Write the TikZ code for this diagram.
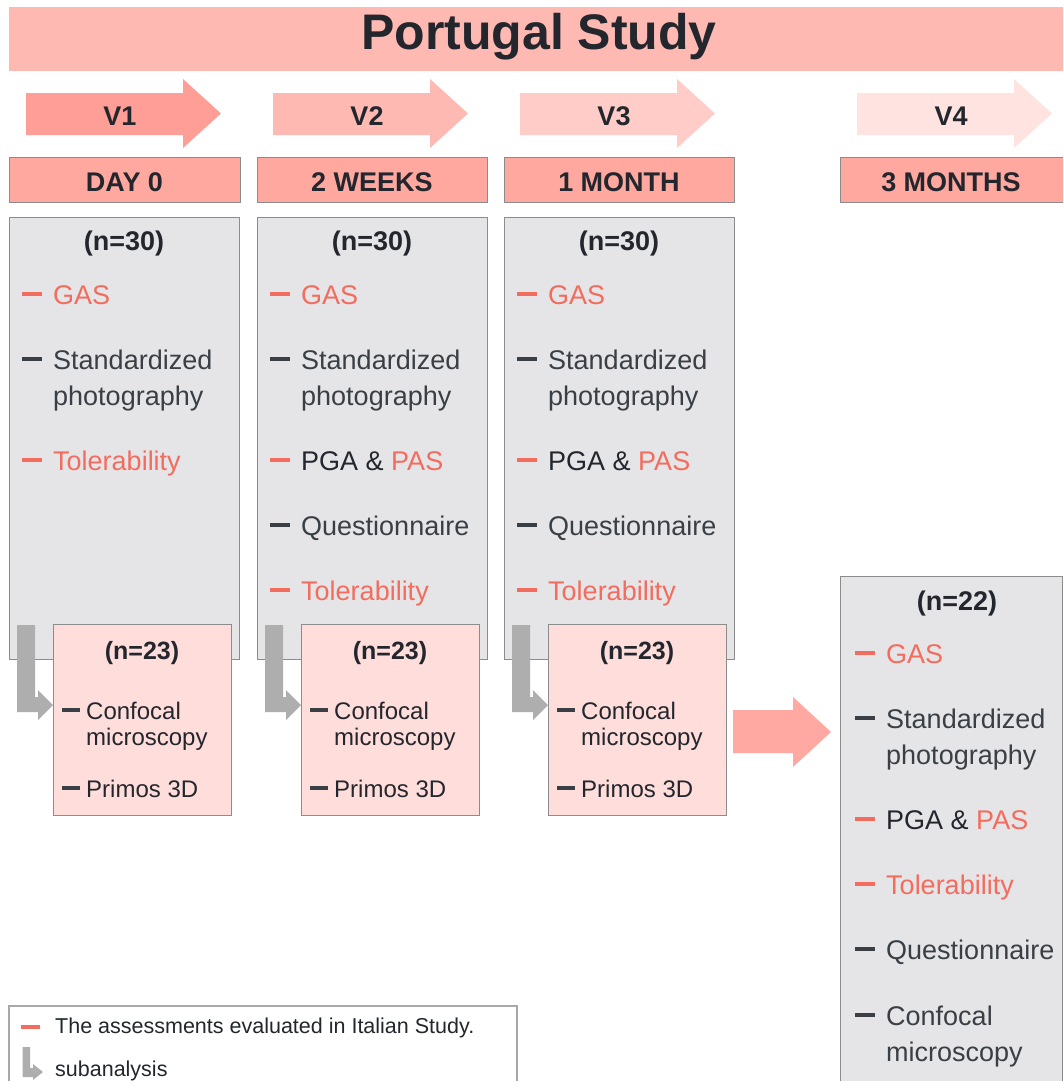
\documentclass[tikz,border=0pt]{standalone}
\usepackage{fontspec}
\setmainfont{Liberation Sans}
\definecolor{titlepink}{HTML}{FFB9B3}
\definecolor{aone}{HTML}{FF9E96}
\definecolor{atwo}{HTML}{FFB9B3}
\definecolor{athree}{HTML}{FFCCC7}
\definecolor{afour}{HTML}{FFE3E0}
\definecolor{hdrfill}{HTML}{FFA8A0}
\definecolor{greyfill}{HTML}{E5E5E7}
\definecolor{pinkfill}{HTML}{FFDDDB}
\definecolor{boxline}{HTML}{8C8C8C}
\definecolor{redc}{HTML}{F36C5E}
\definecolor{darktxt}{HTML}{23272D}
\definecolor{dashdark}{HTML}{3A3F45}
\definecolor{larrowc}{HTML}{AEAEAE}
\definecolor{bigarrowc}{HTML}{FFA9A2}
\definecolor{legline}{HTML}{A8A8A8}
\tikzset{
  itemtxt/.style={inner sep=0pt, anchor=base west, font=\fontsize{27}{36}\selectfont},
  pitemtxt/.style={inner sep=0pt, anchor=base west, font=\fontsize{24}{25}\selectfont},
  boldlbl/.style={inner sep=0pt, anchor=base, text=darktxt, font=\bfseries\fontsize{27}{30}\selectfont},
  smallbold/.style={inner sep=0pt, anchor=base, text=darktxt, font=\bfseries\fontsize{25}{28}\selectfont},
  dashln/.style={line width=4pt, line cap=butt},
  hdrbox/.style={draw=boxline, line width=1.3pt, fill=hdrfill, minimum height=45pt, inner sep=0pt, anchor=north west},
  greybox/.style={draw=boxline, line width=1.3pt, fill=greyfill, inner sep=0pt, anchor=north west},
  pinkbox/.style={draw=boxline, line width=1.3pt, fill=pinkfill, minimum width=178pt, minimum height=191pt, inner sep=0pt, anchor=north west},
  legtxt/.style={inner sep=0pt, anchor=base west, text=darktxt, font=\fontsize{21.5}{24}\selectfont},
}
% grey-box item: name, dash start x, cap-centre y, colour, text
\newcommand\gitem[5]{%
  \draw[dashln,#4] ({#2},{#3}) -- ({#2+20},{#3});
  \node[itemtxt,text=#4] (#1) at ({#2+31},{#3+10}) {#5};}
\newcommand\gitemtwo[6]{%
  \draw[dashln,#4] ({#2},{#3}) -- ({#2+20},{#3});
  \node[itemtxt,text=#4] (#1) at ({#2+31},{#3+10}) {#5};
  \node[itemtxt,text=#4] (#1b) at ({#2+31},{#3+46}) {#6};}
% pink-box item
\newcommand\pitem[4]{%
  \draw[dashln,dashdark] ({#2+9},{#3}) -- ({#2+27},{#3});
  \node[pitemtxt,text=darktxt] (#1) at ({#2+33},{#3+9}) {#4};}
% visit arrow: left x, colour
\newcommand\visitarrow[2]{%
  \fill[#2] ({#1},93) -- ({#1+157},93) -- ({#1+157},79) -- ({#1+195},113.5)
    -- ({#1+157},148) -- ({#1+157},135) -- ({#1},135) -- cycle;}
% subanalysis L arrow: pink box left x
\newcommand\subarrow[1]{%
  \fill[larrowc] ({#1-36},625) -- ({#1-18},625) -- ({#1-18},697) -- ({#1-15},697)
    -- ({#1-15},690) -- ({#1},705) -- ({#1-15},720) -- ({#1-15},712) -- ({#1-36},712) -- cycle;}
\begin{document}
\begin{tikzpicture}[x=1pt,y=-1pt]
\useasboundingbox (0,0) rectangle (1063,1081);
\clip (0,0) rectangle (1063,1081);
\fill[white] (0,0) rectangle (1063,1081);

% title
\fill[titlepink] (9,7) rectangle (1075,71);
\node[inner sep=0pt, anchor=base, text=darktxt, font=\bfseries\fontsize{50}{54}\selectfont] (title) at (539,50) {Portugal Study};

% visit arrows
\visitarrow{26}{aone}
\visitarrow{273}{atwo}
\visitarrow{520}{athree}
\visitarrow{857}{afour}
\node[boldlbl] (v1) at (120,125) {V1};
\node[boldlbl] (v2) at (367,125) {V2};
\node[boldlbl] (v3) at (614,125) {V3};
\node[boldlbl] (v4) at (951,125) {V4};

% header boxes
\node[hdrbox, minimum width=231pt] (h1) at (9,157) {};
\node[hdrbox, minimum width=230pt] (h2) at (257,157) {};
\node[hdrbox, minimum width=230pt] (h3) at (504,157) {};
\node[hdrbox, minimum width=240pt] (h4) at (840,157) {};
\node[boldlbl] (h1t) at (124.5,191) {DAY 0};
\node[boldlbl] (h2t) at (372,191) {2 WEEKS};
\node[boldlbl] (h3t) at (619,191) {1 MONTH};
\node[boldlbl] (h4t) at (951,191) {3 MONTHS};

% grey boxes V1-V3
\node[greybox, minimum width=230pt, minimum height=442pt] (g1) at (9,217) {};
\node[greybox, minimum width=230pt, minimum height=442pt] (g2) at (257,217) {};
\node[greybox, minimum width=230pt, minimum height=442pt] (g3) at (504,217) {};

\node[boldlbl] (g1n) at (124,250) {(n=30)};
\node[boldlbl] (g2n) at (372,250) {(n=30)};
\node[boldlbl] (g3n) at (619,250) {(n=30)};

\gitem{g1a}{22}{294}{redc}{GAS}
\gitemtwo{g1b}{22}{359}{dashdark}{Standardized}{photography}
\gitem{g1c}{22}{460}{redc}{Tolerability}

\gitem{g2a}{270}{294}{redc}{GAS}
\gitemtwo{g2b}{270}{359}{dashdark}{Standardized}{photography}
\gitem{g2c}{270}{460}{redc}{\textcolor{darktxt}{PGA \&} PAS}
\gitem{g2d}{270}{525}{dashdark}{Questionnaire}
\gitem{g2e}{270}{590}{redc}{Tolerability}

\gitem{g3a}{517}{294}{redc}{GAS}
\gitemtwo{g3b}{517}{359}{dashdark}{Standardized}{photography}
\gitem{g3c}{517}{460}{redc}{\textcolor{darktxt}{PGA \&} PAS}
\gitem{g3d}{517}{525}{dashdark}{Questionnaire}
\gitem{g3e}{517}{590}{redc}{Tolerability}

% pink subanalysis boxes
\node[pinkbox] (p1) at (53,624) {};
\node[pinkbox] (p2) at (301,624) {};
\node[pinkbox] (p3) at (548,624) {};
\subarrow{53}
\subarrow{301}
\subarrow{548}
\foreach \bx/\nm in {53/p1,301/p2,548/p3}{
  \node[smallbold] (\nm n) at ({\bx+89},659) {(n=23)};
  \pitem{\nm a}{\bx}{710}{Confocal}
  \node[pitemtxt,text=darktxt] (\nm a2) at ({\bx+33},745) {microscopy};
  \pitem{\nm b}{\bx}{788}{Primos 3D}
}

% big arrow to V4
\fill[bigarrowc] (733,710) -- (793,710) -- (793,697) -- (831,732) -- (793,767) -- (793,753) -- (733,753) -- cycle;

% V4 box
\node[greybox, minimum width=222pt, minimum height=530pt] (g4) at (840,576) {};
\node[boldlbl] (g4n) at (957,610) {(n=22)};
\gitem{g4a}{855}{653}{redc}{GAS}
\gitemtwo{g4b}{855}{718}{dashdark}{Standardized}{photography}
\gitem{g4c}{855}{819}{redc}{\textcolor{darktxt}{PGA \&} PAS}
\gitem{g4d}{855}{884}{redc}{Tolerability}
\gitem{g4e}{855}{949}{dashdark}{Questionnaire}
\gitemtwo{g4f}{855}{1015}{dashdark}{Confocal}{microscopy}

% legend
\draw[legline, line width=1.2pt] (9,1095) -- (9,1006) -- (517,1006) -- (517,1095);
\draw[dashln,redc] (21,1027) -- (40,1027);
\node[legtxt] (leg1) at (55,1033) {The assessments evaluated in Italian Study.};
\fill[larrowc] (22.5,1047) -- (30,1047) -- (30,1068) -- (33,1068) -- (33,1064) -- (43,1072) -- (33,1080) -- (33,1077) -- (22.5,1077) -- cycle;
\node[legtxt] (leg2) at (55,1076) {subanalysis};
\end{tikzpicture}
\end{document}
